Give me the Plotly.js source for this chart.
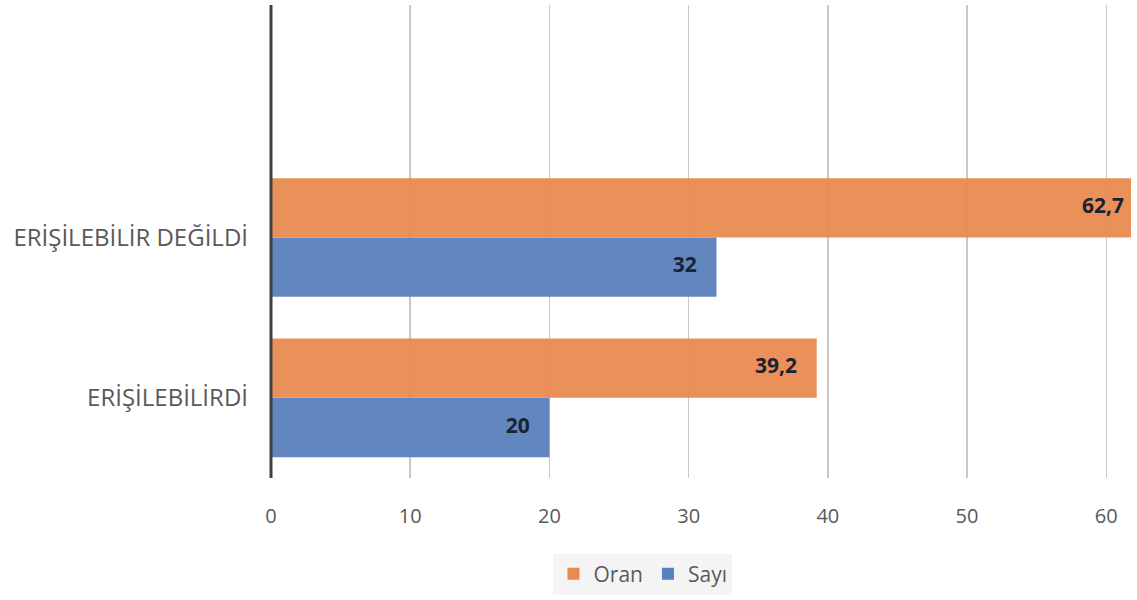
<!DOCTYPE html>
<html><head><meta charset="utf-8">
<script src="https://cdn.plot.ly/plotly-3.0.1.min.js"></script>
<style>html,body{margin:0;padding:0;background:#fff;overflow:hidden;}#wrap{width:1131px;height:600px;overflow:hidden;}#chart{width:1160px;height:600px;}</style>
</head><body><div id="wrap"><div id="chart"></div></div>
<script>
const categories = ["ERİŞİLEBİLİRDİ", "ERİŞİLEBİLİR DEĞİLDİ"];
const sayiValues = [20, 32];
const oranValues = [39.2, 62.7];
const xTicks = [0, 10, 20, 30, 40, 50, 60];

const fmt = v => String(v).replace('.', ',');
const labelFont = {family: "Open Sans, sans-serif", size: 21, color: "#1c2330", weight: 700};

function bar(name, vals, color) {
  return {type: 'bar', orientation: 'h', name: name, y: categories, x: vals,
          marker: {color: color, opacity: 0.95}, hoverinfo: 'none'};
}
function labels(name, vals) {
  return {type: 'scatter', mode: 'markers+text', orientation: 'h', name: name + ' etiket', showlegend: false,
          y: categories, x: vals, text: vals.map(fmt), textposition: 'middle left',
          marker: {size: 30, color: 'rgba(0,0,0,0)', line: {width: 0}}, textfont: labelFont,
          cliponaxis: false, hoverinfo: 'none'};
}

const traces = [
  bar('Sayı', sayiValues, '#5a7fbd'),
  bar('Oran', oranValues, '#e98b50'),
  labels('Sayı', sayiValues),
  labels('Oran', oranValues)
];

const layout = {
  width: 1160, height: 600,
  margin: {l: 271, r: 5, t: 5, b: 117},
  paper_bgcolor: '#ffffff', plot_bgcolor: '#ffffff',
  font: {family: "Open Sans, sans-serif", color: '#595959'},
  barmode: 'group', bargap: 0.26, bargroupgap: 0,
  scattermode: 'group', scattergap: 0.26,
  showlegend: true,
  legend: {orientation: 'h', x: 0.4208, xanchor: 'center', y: -0.203, yanchor: 'middle',
           traceorder: 'reversed', bgcolor: '#f4f4f4', font: {size: 21, color: '#595959'},
           itemwidth: 30, borderwidth: 0},
  xaxis: {range: [0, 63.5], tickvals: xTicks, ticktext: xTicks.map(String),
          showgrid: true, gridcolor: '#c8c8c8', gridwidth: 1.5,
          zeroline: false, showline: false, ticks: '',
          tickfont: {size: 20, color: '#595959'}, ticklabelstandoff: 24, fixedrange: true},
  yaxis: {type: 'category', range: [-0.5, 2.45], showgrid: false, zeroline: false,
          showline: false, ticks: '', tickfont: {size: 24, color: '#595959'},
          ticklabelstandoff: 22, fixedrange: true},
  shapes: [{type: 'line', xref: 'paper', yref: 'paper', x0: 0, x1: 0, y0: 0, y1: 1,
            line: {color: '#3d4247', width: 3}}]
};

Plotly.newPlot('chart', traces, layout, {displayModeBar: false, staticPlot: true});
</script></body></html>
